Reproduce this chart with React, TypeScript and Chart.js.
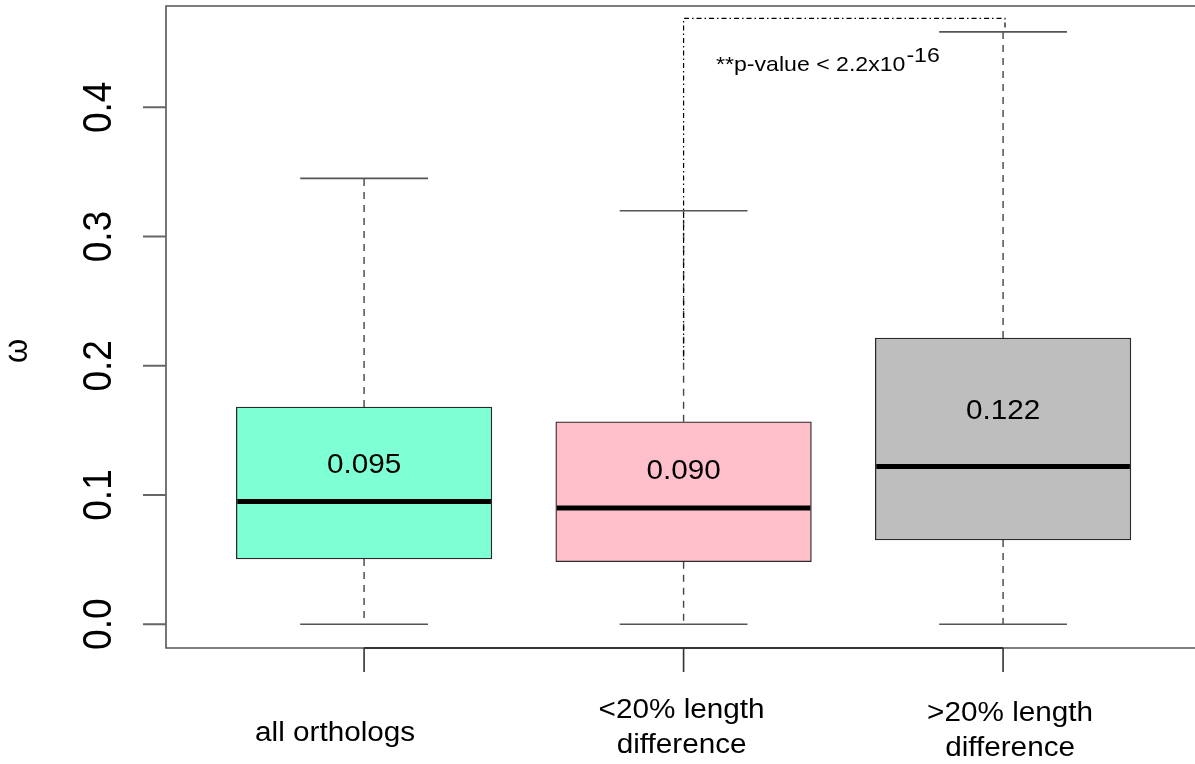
import React, { useEffect, useRef } from "react";
import { Chart, registerables } from "chart.js";

Chart.register(...registerables);

// ---------- data ----------
const CATEGORY_POSITIONS = [1, 2, 3];
const CATEGORY_LABELS = [["all orthologs"], ["<20% length", "difference"], [">20% length", "difference"]];
const WHISKER_LOW = [0.0, 0.0, 0.0];
const Q1 = [0.0505, 0.0484, 0.0652];
const MEDIAN = [0.095, 0.09, 0.122];
const Q3 = [0.168, 0.1567, 0.2215];
const WHISKER_HIGH = [0.345, 0.32, 0.4584];
const MEDIAN_LABELS = ["0.095", "0.090", "0.122"];
const Y_TICKS = [0, 0.1, 0.2, 0.3, 0.4];
const Y_TICK_LABELS = ["0.0", "0.1", "0.2", "0.3", "0.4"];
const Y_AXIS_TITLE = "ω";
const P_TEXT = "**p-value < 2.2x10";
const P_SUP = "-16";

// ---------- styles / layout ----------
const BOX_COLORS = ["#7FFFD4", "#FFC0CB", "#BEBEBE"];
const W = 1195;
const H = 764;
const PAD_LEFT = 166;
const PAD_TOP = 6;
const PAD_BOTTOM = H - 648;
const X_MIN = 0.38;
const X_MAX = 3.6007;
const Y_MIN = -0.0184;
const Y_MAX = 0.4784;
const BOX_WIDTH = 0.8;
const CAP_WIDTH = 0.4;
const BAR_PX = (BOX_WIDTH * (W - PAD_LEFT)) / (X_MAX - X_MIN);
const FONT = '"Liberation Sans", Arial, Helvetica, sans-serif';
const SX = 1.1; // horizontal stretch of glyphs in the reference
// median label baselines (value units) and category label offsets
const MED_LABEL_Y = [0.1173, 0.112, 0.1588];
const CAT_LABEL_DX = [-29, -2, 7];
const CAT_LABEL_BASE = [[741], [718, 753], [721, 756]];
// significance bracket
const BRACKET_X = [2, 3.006];
const BRACKET_Y = [0.2045, 0.4688, 0.46];

function stretchedText(
  ctx: CanvasRenderingContext2D,
  text: string,
  x: number,
  y: number,
  size: number,
  align: CanvasTextAlign
) {
  ctx.save();
  ctx.translate(x, y);
  ctx.scale(SX, 1);
  ctx.font = `${size}px ${FONT}`;
  ctx.textAlign = align;
  ctx.textBaseline = "alphabetic";
  ctx.fillStyle = "#000";
  ctx.fillText(text, 0, 0);
  ctx.restore();
}

function rotatedText(ctx: CanvasRenderingContext2D, text: string, bx: number, cy: number, size: number) {
  ctx.save();
  ctx.translate(bx, cy);
  ctx.scale(SX, 1);
  ctx.rotate(-Math.PI / 2);
  ctx.font = `${size}px ${FONT}`;
  ctx.textAlign = "center";
  ctx.textBaseline = "alphabetic";
  ctx.fillStyle = "#000";
  ctx.fillText(text, 0, 0);
  ctx.restore();
}

const boxPlugin = {
  id: "rbox",
  beforeDatasetsDraw(chart: any) {
    const { ctx, scales } = chart;
    const xs = scales.x;
    const ys = scales.y;
    ctx.save();
    CATEGORY_POSITIONS.forEach((c, i) => {
      const px = xs.getPixelForValue(c);
      // dashed whiskers
      ctx.strokeStyle = "#444";
      ctx.lineWidth = 1.4;
      ctx.setLineDash([7, 6]);
      ctx.beginPath();
      ctx.moveTo(px, ys.getPixelForValue(Q3[i]));
      ctx.lineTo(px, ys.getPixelForValue(WHISKER_HIGH[i]));
      ctx.moveTo(px, ys.getPixelForValue(Q1[i]));
      ctx.lineTo(px, ys.getPixelForValue(WHISKER_LOW[i]));
      ctx.stroke();
      // caps
      ctx.setLineDash([]);
      ctx.strokeStyle = "#555";
      ctx.lineWidth = 1.6;
      ctx.beginPath();
      const l = xs.getPixelForValue(c - CAP_WIDTH / 2);
      const r = xs.getPixelForValue(c + CAP_WIDTH / 2);
      [WHISKER_HIGH[i], WHISKER_LOW[i]].forEach((v) => {
        const py = ys.getPixelForValue(v);
        ctx.moveTo(l, py);
        ctx.lineTo(r, py);
      });
      ctx.stroke();
    });
    ctx.restore();
  },
  afterDatasetsDraw(chart: any) {
    const { ctx, scales, chartArea } = chart;
    const xs = scales.x;
    const ys = scales.y;
    ctx.save();
    // medians
    CATEGORY_POSITIONS.forEach((c, i) => {
      const py = ys.getPixelForValue(MEDIAN[i]);
      ctx.strokeStyle = "#000";
      ctx.lineWidth = 5;
      ctx.beginPath();
      ctx.moveTo(xs.getPixelForValue(c - BOX_WIDTH / 2) + 1, py);
      ctx.lineTo(xs.getPixelForValue(c + BOX_WIDTH / 2) - 1, py);
      ctx.stroke();
      stretchedText(ctx, MEDIAN_LABELS[i], xs.getPixelForValue(c), ys.getPixelForValue(MED_LABEL_Y[i]), 27, "center");
    });

    // frame
    ctx.strokeStyle = "#555";
    ctx.lineWidth = 1.6;
    ctx.beginPath();
    ctx.moveTo(chart.width, chartArea.top);
    ctx.lineTo(chartArea.left, chartArea.top);
    ctx.lineTo(chartArea.left, chartArea.bottom);
    ctx.lineTo(chart.width, chartArea.bottom);
    ctx.stroke();

    // x axis line + ticks
    ctx.strokeStyle = "#333";
    ctx.lineWidth = 2;
    ctx.beginPath();
    ctx.moveTo(xs.getPixelForValue(CATEGORY_POSITIONS[0]), chartArea.bottom);
    ctx.lineTo(xs.getPixelForValue(CATEGORY_POSITIONS[CATEGORY_POSITIONS.length - 1]), chartArea.bottom);
    ctx.stroke();
    ctx.lineWidth = 1.6;
    ctx.beginPath();
    CATEGORY_POSITIONS.forEach((c) => {
      const px = xs.getPixelForValue(c);
      ctx.moveTo(px, chartArea.bottom);
      ctx.lineTo(px, chartArea.bottom + 24);
    });
    ctx.stroke();

    // y axis ticks
    ctx.strokeStyle = "#666";
    ctx.lineWidth = 2;
    ctx.beginPath();
    Y_TICKS.forEach((v) => {
      const py = ys.getPixelForValue(v);
      ctx.moveTo(chartArea.left - 23, py);
      ctx.lineTo(chartArea.left, py);
    });
    ctx.stroke();
    Y_TICKS.forEach((v, i) => {
      rotatedText(ctx, Y_TICK_LABELS[i], 111, ys.getPixelForValue(v), 37);
    });
    rotatedText(ctx, Y_AXIS_TITLE, 27, 351, 31);

    // category labels
    CATEGORY_POSITIONS.forEach((c, i) => {
      const px = xs.getPixelForValue(c) + CAT_LABEL_DX[i];
      CATEGORY_LABELS[i].forEach((line, j) => {
        stretchedText(ctx, line, px, CAT_LABEL_BASE[i][j], 27, "center");
      });
    });

    // significance bracket
    ctx.strokeStyle = "#000";
    ctx.lineWidth = 1.2;
    ctx.setLineDash([1.5, 3, 5, 3]);
    ctx.beginPath();
    ctx.moveTo(xs.getPixelForValue(BRACKET_X[0]), ys.getPixelForValue(BRACKET_Y[0]));
    ctx.lineTo(xs.getPixelForValue(BRACKET_X[0]), ys.getPixelForValue(BRACKET_Y[1]));
    ctx.lineTo(xs.getPixelForValue(BRACKET_X[1]), ys.getPixelForValue(BRACKET_Y[1]));
    ctx.lineTo(xs.getPixelForValue(BRACKET_X[1]), ys.getPixelForValue(BRACKET_Y[2]));
    ctx.stroke();
    ctx.setLineDash([]);

    // p-value text
    const tx = 716;
    const ty = 71;
    stretchedText(ctx, P_TEXT, tx, ty, 21, "left");
    ctx.font = `21px ${FONT}`;
    const w = ctx.measureText(P_TEXT).width * SX;
    stretchedText(ctx, P_SUP, tx + w + 1, ty - 9, 21, "left");
    ctx.restore();
  },
};

export default function App() {
  const ref = useRef<HTMLCanvasElement | null>(null);
  useEffect(() => {
    if (!ref.current) return;
    const chart = new Chart(ref.current, {
      type: "bar",
      data: {
        datasets: [
          {
            data: CATEGORY_POSITIONS.map((c, i) => ({ x: c, y: [Q1[i], Q3[i]] })) as any,
            backgroundColor: BOX_COLORS,
            borderColor: "#2a2a2a",
            borderWidth: 1.3,
            borderSkipped: false,
            barThickness: BAR_PX,
          },
        ],
      },
      options: {
        animation: false,
        responsive: false,
        maintainAspectRatio: false,
        devicePixelRatio: 1,
        layout: { padding: { left: PAD_LEFT, top: PAD_TOP, right: 0, bottom: PAD_BOTTOM } },
        plugins: { legend: { display: false }, tooltip: { enabled: false } },
        scales: {
          x: {
            type: "linear",
            min: X_MIN,
            max: X_MAX,
            offset: false,
            display: false,
            ticks: { stepSize: 1, includeBounds: false },
          },
          y: { type: "linear", min: Y_MIN, max: Y_MAX, display: false },
        },
      },
      plugins: [boxPlugin],
    });
    return () => chart.destroy();
  }, []);
  return (
    <div style={{ position: "fixed", left: 0, top: 0, width: W, height: H, background: "#fff" }}>
      <canvas ref={ref} width={W} height={H} style={{ width: W, height: H, display: "block" }} />
    </div>
  );
}
